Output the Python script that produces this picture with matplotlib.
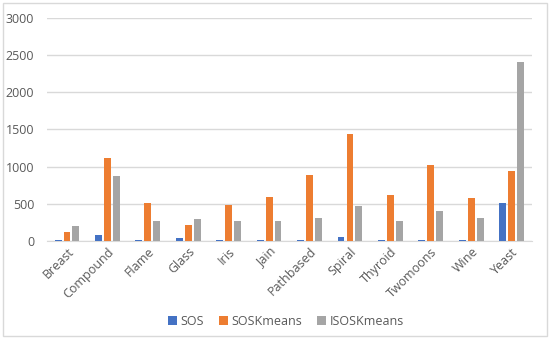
import matplotlib
matplotlib.use("Agg")
import matplotlib.pyplot as plt
from matplotlib.patches import Rectangle
import numpy as np

datasets = ["Breast", "Compound", "Flame", "Glass", "Iris", "Jain",
            "Pathbased", "Spiral", "Thyroid", "Twomoons", "Wine", "Yeast"]
sos = [20, 80, 20, 40, 20, 20, 20, 60, 20, 20, 20, 510]
sos_kmeans = [125, 1110, 515, 220, 480, 595, 885, 1445, 620, 1020, 585, 940]
isos_kmeans = [200, 880, 265, 300, 275, 275, 315, 465, 275, 405, 305, 2410]

series = [("SOS", sos, "#4472C4"),
          ("SOSKmeans", sos_kmeans, "#ED7D31"),
          ("ISOSKmeans", isos_kmeans, "#A5A5A5")]

text_color = "#595959"
plt.rcParams["font.family"] = ["Open Sans", "DejaVu Sans"]

fig = plt.figure(figsize=(5.5, 3.39), dpi=100)
ax = fig.add_axes([0.085, 0.289, 0.882, 0.658])

x = np.arange(len(datasets))
width = 0.17
step = 0.22
for i, (name, vals, color) in enumerate(series):
    ax.bar(x + (i - 1) * step, vals, width, color=color, label=name, zorder=3)

ax.set_ylim(0, 3000)
ax.set_yticks(range(0, 3001, 500))
ax.set_xlim(-0.5, len(datasets) - 0.5)
ax.set_xticks(x)
ax.set_xticklabels(datasets, rotation=45, ha="right", rotation_mode="anchor")
ax.grid(axis="y", color="#D9D9D9", linewidth=1, zorder=0)
for s in ["top", "right", "left"]:
    ax.spines[s].set_visible(False)
ax.spines["bottom"].set_color("#D9D9D9")
ax.tick_params(length=0, labelsize=9, colors=text_color)
ax.tick_params(axis="y", pad=9)
ax.tick_params(axis="x", pad=3)

fig.legend(loc="lower center", bbox_to_anchor=(0.52, 0.0), ncol=3, frameon=False,
           fontsize=9, handlelength=0.7, handleheight=0.7, handletextpad=0.3,
           columnspacing=1.2, labelcolor=text_color)

fig.patches.append(Rectangle((0.005, 0.008), 0.99, 0.984, transform=fig.transFigure,
                             fill=False, edgecolor="#D9D9D9", linewidth=1))

fig.savefig("out.png", dpi=100)
